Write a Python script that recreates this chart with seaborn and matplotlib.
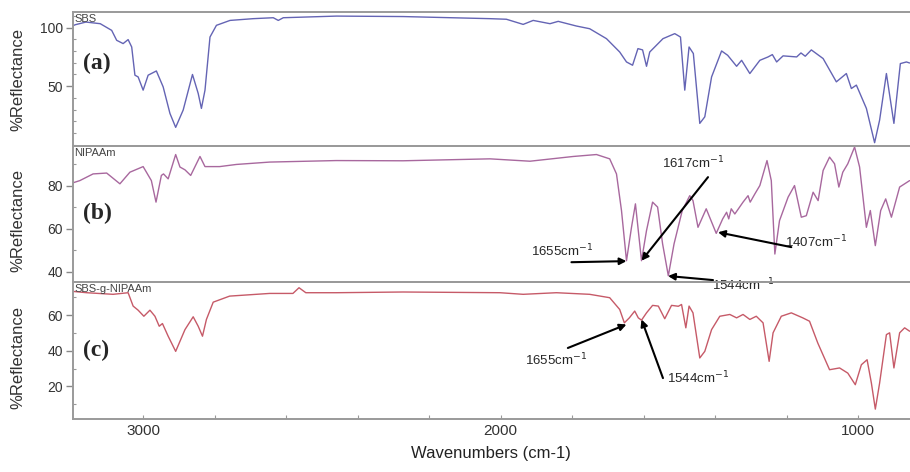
import numpy as np
import pandas as pd
import matplotlib
matplotlib.use('Agg')
import matplotlib.pyplot as plt
from matplotlib.ticker import MultipleLocator
import seaborn as sns

# 光谱数据
sbs_wn = [3205, 3190, 3160, 3120, 3088, 3074, 3056, 3042, 3032, 3023, 3014, 3000, 2986, 2963, 2944,
          2925, 2909, 2888, 2862, 2846, 2837, 2827, 2813, 2795, 2757, 2692, 2636, 2622, 2608, 2459,
          2273, 2030, 1984, 1937, 1909, 1862, 1839, 1788, 1751, 1704, 1667, 1648, 1631, 1616, 1603,
          1592, 1583, 1546, 1513, 1497, 1485, 1473, 1461, 1443, 1429, 1410, 1382, 1365, 1340, 1326,
          1303, 1275, 1252, 1240, 1228, 1210, 1172, 1160, 1148, 1131, 1098, 1061, 1033, 1019, 1005,
          977, 954, 940, 921, 900, 882, 865, 856]
sbs_val = [100.5, 102.5, 104.8, 103.4, 97.7, 89.2, 86.4, 89.8, 83.5, 59.4, 57.9, 46.6, 59.4, 63.0, 49.4,
           26.7, 14.8, 29.6, 60.0, 43.8, 31.0, 46.6, 92.0, 102.0, 106.2, 107.7, 108.5, 106.2, 108.5, 109.9,
           109.5, 107.7, 107.2, 102.8, 106.2, 103.4, 105.4, 101.4, 99.1, 90.6, 79.2, 70.7, 67.9, 82.1, 81.0,
           67.0, 79.2, 90.6, 94.9, 92.0, 46.6, 83.5, 77.9, 18.2, 23.8, 57.9, 80.1, 76.4, 67.0, 72.1,
           60.8, 72.1, 75.0, 77.0, 70.7, 75.9, 75.0, 78.4, 75.6, 81.0, 73.6, 53.7, 60.8, 48.0, 50.9,
           31.0, 1.7, 21.0, 60.8, 18.2, 69.3, 70.7, 69.8]

nip_wn = [3205, 3177, 3140, 3102, 3065, 3037, 3000, 2977, 2964, 2949, 2943, 2930, 2909, 2897, 2883,
          2867, 2841, 2827, 2786, 2739, 2646, 2460, 2273, 2030, 1918, 1797, 1732, 1695, 1676, 1662,
          1648, 1634, 1623, 1606, 1592, 1575, 1561, 1547, 1531, 1515, 1492, 1471, 1462, 1448, 1425,
          1397, 1379, 1368, 1362, 1355, 1345, 1322, 1308, 1302, 1289, 1275, 1255, 1243, 1233, 1220,
          1196, 1178, 1159, 1145, 1126, 1112, 1098, 1080, 1066, 1054, 1043, 1029, 1010, 996, 977,
          966, 952, 937, 923, 907, 884, 856]
nip_val = [80.8, 82.3, 85.4, 85.8, 80.8, 86.2, 88.8, 82.3, 72.3, 84.7, 85.4, 83.1, 94.4, 88.6, 87.3,
           84.7, 93.5, 88.8, 88.8, 89.8, 90.9, 91.6, 91.5, 92.4, 91.3, 93.5, 94.4, 92.4, 85.4, 68.4,
           45.1, 60.6, 71.5, 45.1, 59.1, 72.3, 70.0, 52.9, 38.1, 52.9, 68.4, 75.3, 73.0, 60.6, 69.2,
           57.8, 64.5, 67.6, 64.5, 69.2, 66.8, 72.3, 75.3, 72.3, 76.1, 80.0, 91.6, 82.3, 48.2, 63.7,
           74.6, 80.0, 65.3, 66.0, 76.9, 73.0, 87.0, 93.2, 90.1, 79.3, 86.2, 90.1, 97.9, 88.6, 60.6,
           68.4, 52.1, 68.4, 73.8, 65.3, 79.3, 82.3]

graft_wn = [3205, 3158, 3084, 3042, 3028, 3014, 2998, 2981, 2967, 2955, 2946, 2930, 2909, 2883, 2860,
            2846, 2834, 2823, 2804, 2758, 2646, 2581, 2564, 2545, 2460, 2273, 2002, 1937, 1844, 1751,
            1695, 1667, 1654, 1640, 1625, 1615, 1606, 1592, 1575, 1559, 1541, 1522, 1503, 1494, 1482,
            1473, 1462, 1443, 1429, 1410, 1387, 1359, 1340, 1322, 1303, 1285, 1266, 1249, 1238, 1215,
            1187, 1155, 1136, 1113, 1080, 1052, 1029, 1008, 991, 975, 963, 952, 940, 921, 912,
            900, 884, 870, 856]
graft_val = [73.5, 72.6, 71.7, 72.6, 65.1, 62.8, 59.4, 62.8, 59.4, 53.8, 55.3, 48.2, 39.7, 51.9, 59.1,
             53.8, 48.2, 57.6, 67.3, 70.7, 72.2, 72.2, 75.4, 72.6, 72.6, 73.0, 72.6, 71.7, 72.6, 71.7,
             69.8, 63.2, 55.7, 58.5, 62.3, 58.5, 57.2, 61.3, 65.5, 65.1, 58.0, 65.5, 65.0, 66.0, 52.9,
             65.1, 61.3, 36.0, 39.7, 51.9, 59.4, 60.4, 58.5, 60.4, 57.6, 59.4, 55.7, 34.1, 50.1, 59.4,
             61.3, 58.5, 56.6, 44.4, 29.4, 30.4, 27.5, 21.0, 32.2, 35.0, 21.9, 7.3, 21.9, 49.1, 50.1,
             30.4, 50.1, 52.9, 51.0]

names = ['SBS', 'NIPAAm', 'SBS-g-NIPAAm']
panel_tags = ['(a)', '(b)', '(c)']
colors = ['#6464b4', '#a8689e', '#c65a68']
ylims = [(-1, 113), (35.2, 98.5), (1.6, 78.6)]
yticks = [[50, 100], [40, 60, 80], [20, 40, 60]]
xticks = [3000, 2000, 1000]

sns.set_style('white')
plt.rcParams['font.family'] = ['Liberation Sans', 'DejaVu Sans']

fig = plt.figure(figsize=(9.1, 4.72), dpi=100)
# 三个面板的位置 (left, bottom, width, height)
boxes = [(0.0799, 0.691, 0.9201, 0.2826),
         (0.0799, 0.4025, 0.9201, 0.2888),
         (0.0799, 0.1117, 0.9201, 0.2908)]
axes = [fig.add_axes(b) for b in boxes]

series = [(sbs_wn, sbs_val), (nip_wn, nip_val), (graft_wn, graft_val)]
for i, ax in enumerate(axes):
    df = pd.DataFrame({'wn': series[i][0], 'val': series[i][1]})
    sns.lineplot(data=df, x='wn', y='val', ax=ax, color=colors[i], linewidth=1.0,
                 estimator=None, sort=False)
    ax.set_facecolor('none')
    ax.set_xlim(3197, 855)
    ax.set_ylim(*ylims[i])
    ax.set_yticks(yticks[i])
    ax.yaxis.set_minor_locator(MultipleLocator(10))
    ax.xaxis.set_minor_locator(MultipleLocator(200))
    ax.tick_params(axis='y', which='both', left=True)
    ax.tick_params(axis='y', which='major', direction='out', length=5, width=1,
                   color='#888888', labelsize=10, labelcolor='#333333', pad=2)
    ax.tick_params(axis='y', which='minor', direction='in', length=2.5, width=0.8, color='#999999')
    ax.tick_params(axis='x', which='both', bottom=True, direction='in', length=3, width=0.8,
                   color='#999999', labelsize=11, labelcolor='#333333')
    for side in ['top', 'bottom', 'left']:
        ax.spines[side].set_color('#9a9a9a')
        ax.spines[side].set_linewidth(1.4)
    ax.spines['right'].set_visible(False)
    ax.set_ylabel('%Reflectance', fontsize=12, color='#333333')
    ax.yaxis.set_label_coords(-0.056, 0.5 if i == 0 else 0.45)
    ax.set_xlabel('')
    ax.text(0.002, 0.985, names[i], transform=ax.transAxes, fontsize=8, color='#444444',
            ha='left', va='top')
    ax.text(0.012, 0.62 if i == 0 else 0.5, panel_tags[i], transform=ax.transAxes,
            fontsize=17, fontweight='bold', family='Liberation Serif', ha='left', va='center')
    if i < 2:
        ax.set_xticks(xticks)
        ax.tick_params(axis='x', which='both', length=0, labelbottom=False)

axes[2].set_xticks(xticks)
axes[2].set_xticklabels([str(t) for t in xticks])
axes[2].set_xlabel('Wavenumbers (cm-1)', fontsize=12, color='#222222', labelpad=6)

arrow = dict(arrowstyle='-|>', color='black', lw=1.5, mutation_scale=10, shrinkA=0, shrinkB=0)
fs = 9.5
# (b) NIPAAm 标注
ab = axes[1]
ab.annotate('', xy=(1648, 44.9), xytext=(1802, 44.4), arrowprops=arrow)
ab.text(1829, 49.8, '1655cm$^{-1}$', fontsize=fs, ha='center', va='center')
ab.annotate('', xy=(1606, 45.1), xytext=(1420, 83.9), arrowprops=arrow)
ab.text(1463, 90.6, '1617cm$^{-1}$', fontsize=fs, ha='center', va='center')
ab.annotate('', xy=(1392, 58.3), xytext=(1187, 51.4), arrowprops=arrow)
ab.text(1117, 53.7, '1407cm$^{-1}$', fontsize=fs, ha='center', va='center')
ab.annotate('', xy=(1532, 38.0), xytext=(1406, 36.1), arrowprops=arrow, annotation_clip=False)
ab.text(1323, 33.8, '1544cm$^{-1}$', fontsize=fs, ha='center', va='center', clip_on=False, zorder=10)

# (c) SBS-g-NIPAAm 标注
ac = axes[2]
ac.annotate('', xy=(1648, 54.8), xytext=(1812, 41.6), arrowprops=arrow)
ac.text(1844, 35.0, '1655cm$^{-1}$', fontsize=fs, ha='center', va='center')
ac.annotate('', xy=(1606, 57.6), xytext=(1546, 24.7), arrowprops=arrow)
ac.text(1448, 24.7, '1544cm$^{-1}$', fontsize=fs, ha='center', va='center')

plt.savefig('out.png', dpi=100)
